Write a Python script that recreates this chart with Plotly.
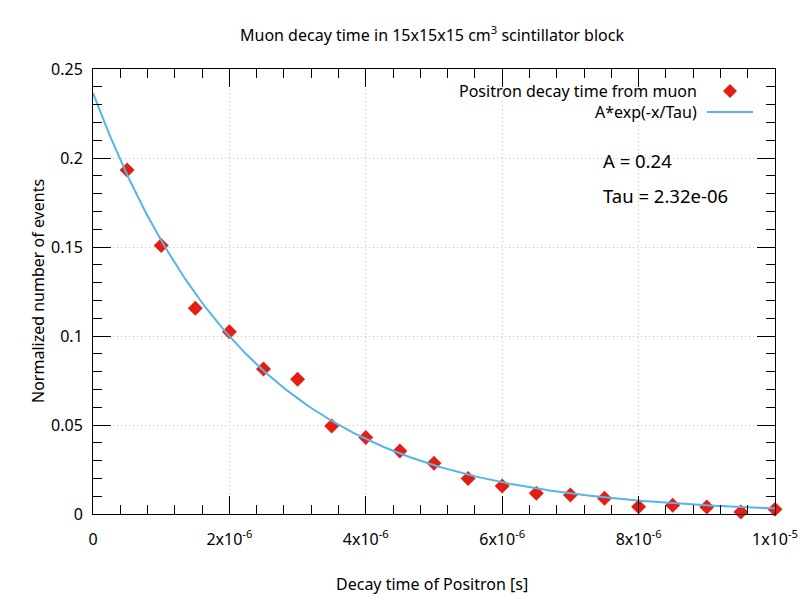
import numpy as np
import plotly.graph_objects as go

# Data
decay_time = [0.5e-6, 1.0e-6, 1.5e-6, 2.0e-6, 2.5e-6, 3.0e-6, 3.5e-6, 4.0e-6, 4.5e-6, 5.0e-6,
              5.5e-6, 6.0e-6, 6.5e-6, 7.0e-6, 7.5e-6, 8.0e-6, 8.5e-6, 9.0e-6, 9.5e-6, 1.0e-5]
events = [0.1933, 0.1508, 0.1156, 0.1024, 0.0815, 0.0757, 0.0494, 0.0430, 0.0354, 0.0285,
          0.0200, 0.0157, 0.0116, 0.0107, 0.0088, 0.0041, 0.0049, 0.0039, 0.0011, 0.0026]

# Fit parameters
fit_A = 0.2365
fit_tau = 2.32e-6

x_tickvals = [0, 2e-6, 4e-6, 6e-6, 8e-6, 1e-5]
x_ticktext = ["0", "2x10<sup>-6</sup>", "4x10<sup>-6</sup>", "6x10<sup>-6</sup>",
              "8x10<sup>-6</sup>", "1x10<sup>-5</sup>"]
y_tickvals = [0, 0.05, 0.1, 0.15, 0.2, 0.25]
y_ticktext = ["0", "0.05", "0.1", "0.15", "0.2", "0.25"]

RED = "#e51e14"
BLUE = "#56b4e9"
FONT = "Noto Sans"
FS = 16

xf = np.linspace(0, 1e-5, 300)
yf = fit_A * np.exp(-xf / fit_tau)

fig = go.Figure()
fig.add_trace(go.Scatter(x=decay_time, y=events, mode="markers",
                         marker=dict(symbol="diamond", size=11.5, color=RED, line=dict(width=0)),
                         showlegend=False, cliponaxis=False))
fig.add_trace(go.Scatter(x=xf, y=yf, mode="lines", line=dict(color=BLUE, width=2),
                         showlegend=False, hoverinfo="skip"))

L, R, T, B = 93, 25, 69, 86
W, H = 800, 600
pw, ph = W - L - R, H - T - B

def px(xp):
    return (xp - L) / pw

def py(yp):
    return (H - B - yp) / ph

axis_common = dict(
    showline=True, linecolor="black", linewidth=1, mirror="ticks",
    ticks="inside", ticklen=18, tickcolor="black", tickwidth=1,
    showgrid=True, gridcolor="#c0c0c0", griddash="1px,3px", gridwidth=1,
    zeroline=False, tickfont=dict(family=FONT, size=FS, color="black"),
    automargin=False,
)

fig.update_xaxes(range=[0, 1e-5], tickmode="array", tickvals=x_tickvals, ticktext=x_ticktext,
                 minor=dict(ticks="inside", ticklen=9, dtick=4e-7, tickcolor="black", showgrid=False),
                 ticklabelstandoff=11,
                 **axis_common)
fig.update_yaxes(range=[0, 0.25], tickmode="array", tickvals=y_tickvals, ticktext=y_ticktext,
                 minor=dict(ticks="inside", ticklen=9, dtick=0.01, tickcolor="black", showgrid=False),
                 ticklabelstandoff=6,
                 **axis_common)

# Axis titles
fig.add_annotation(x=px(432), y=py(584), xref="paper", yref="paper", xanchor="center", yanchor="middle",
                   text="Decay time of Positron [s]", showarrow=False,
                   font=dict(family=FONT, size=FS, color="black"))
fig.add_annotation(x=px(38), y=py(291), xref="paper", yref="paper", xanchor="center", yanchor="middle",
                   text="Normalized number of events", showarrow=False, textangle=-90,
                   font=dict(family=FONT, size=FS, color="black"))

# Manual gnuplot-style legend (text, then symbol on the right)
fig.add_annotation(x=px(699), y=py(91), xref="paper", yref="paper", xanchor="right", yanchor="middle",
                   text="Positron decay time from muon", showarrow=False,
                   font=dict(family=FONT, size=FS, color="black"))
fig.add_annotation(x=px(699), y=py(112), xref="paper", yref="paper", xanchor="right", yanchor="middle",
                   text="A*exp(-x/Tau)", showarrow=False,
                   font=dict(family=FONT, size=FS, color="black"))
fig.add_shape(type="path", xref="paper", yref="paper",
              path=f"M {px(723)},{py(91)} L {px(730)},{py(84)} L {px(737)},{py(91)} L {px(730)},{py(98)} Z",
              fillcolor=RED, line=dict(width=0))
fig.add_shape(type="line", xref="paper", yref="paper", x0=px(707), x1=px(753), y0=py(112), y1=py(112),
              line=dict(color=BLUE, width=2))

fig.add_annotation(x=px(601), y=py(160), xref="paper", yref="paper", xanchor="left", yanchor="middle",
                   text="A = 0.24", showarrow=False, font=dict(family=FONT, size=18.5, color="black"))
fig.add_annotation(x=px(601), y=py(195.5), xref="paper", yref="paper", xanchor="left", yanchor="middle",
                   text="Tau = 2.32e-06", showarrow=False, font=dict(family=FONT, size=18.5, color="black"))

fig.update_layout(
    width=W, height=H,
    margin=dict(l=L, r=R, t=T, b=B, autoexpand=False),
    paper_bgcolor="white", plot_bgcolor="white",
    title=dict(text="Muon decay time in 15x15x15 cm<sup>3</sup> scintillator block",
               xref="container", x=432 / W, xanchor="center",
               yref="container", y=1 - 35 / H, yanchor="middle",
               font=dict(family=FONT, size=FS, color="black")),
)

fig.write_html("out.html", config={"displayModeBar": False},
               post_script="document.body.style.margin='0';")
